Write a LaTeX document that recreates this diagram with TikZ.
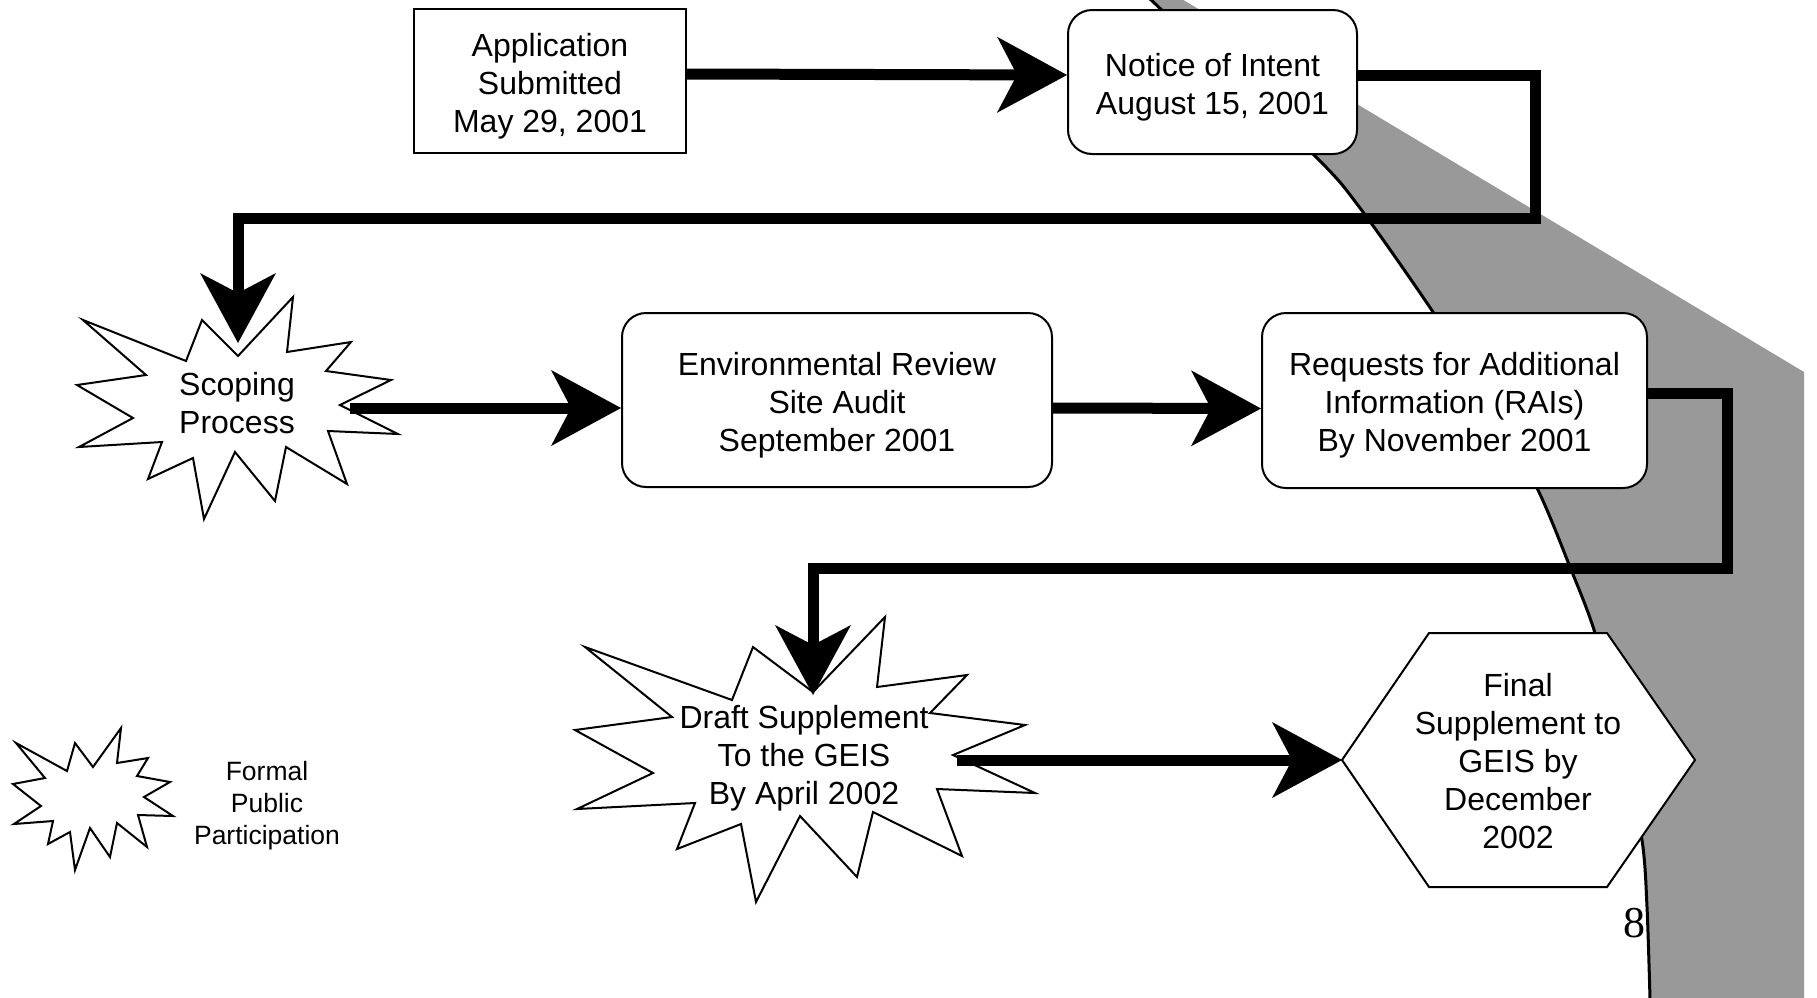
\documentclass[tikz,border=0pt]{standalone}
\usepackage{fontspec}
\setmainfont{Liberation Sans}
\newfontfamily\pagenumfont{Liberation Serif}
\usetikzlibrary{arrows.meta}
\newcommand\mainfs{\fontsize{32}{38}\selectfont}
\newcommand\legfs{\fontsize{26.5}{32}\selectfont}
\begin{document}
\begin{tikzpicture}[x=1pt,y=-1pt,
  box/.style={draw=black, line width=2pt, fill=white, inner sep=0pt},
  rbox/.style={box, rounded corners=24pt},
  txt/.style={align=center, font=\mainfs, inner sep=0pt},
  legtxt/.style={align=center, font=\legfs, inner sep=0pt},
  starshape/.style={draw=black, line width=2pt, fill=white, line join=miter},
  conn/.style={line width=11pt, line join=miter},
  arr/.style={conn, -{Stealth[length=70pt,width=76pt,inset=20pt,line width=0pt]}},
  bandgray/.style={fill=black!40}
]
\useasboundingbox (0,0) rectangle (1817,997);
\fill[white] (0,0) rectangle (1817,997);

% gray band
\fill[bandgray] plot[smooth,tension=0.5] coordinates {(1149,-2) (1313,154) (1360,208) (1433,312) (1487,398) (1537,488) (1570,567) (1595,633) (1622,735) (1642,840) (1647,907) (1650,999)}
  -- (1804,999) -- (1804,372) -- (1180,-2) -- cycle;
\draw[line width=3pt] plot[smooth,tension=0.5] coordinates {(1149,-2) (1313,154) (1360,208) (1433,312) (1487,398) (1537,488) (1570,567) (1595,633) (1622,735) (1642,840) (1647,907) (1650,999)};

% boxes
\node[box, minimum width=272pt, minimum height=144pt] (app) at (550,81) {};
\node[txt] (apptext) at ([yshift=-5pt]app.center) {Application\\Submitted\\May 29, 2001};
\node[rbox, minimum width=289pt, minimum height=144pt] (notice) at (1212.5,82) {};
\node[txt] (noticetext) at ([yshift=-5pt]notice.center) {Notice of Intent\\August 15, 2001};
\node[rbox, minimum width=430pt, minimum height=174pt] (env) at (837,400) {};
\node[txt] (envtext) at ([yshift=-5pt]env.center) {Environmental Review\\Site Audit\\September 2001};
\node[rbox, minimum width=385pt, minimum height=175pt] (rai) at (1454.5,400.5) {};
\node[txt] (raitext) at ([yshift=-5pt]rai.center) {Requests for Additional\\Information (RAIs)\\By November 2001};

% hexagon
\draw[starshape] (1342,760) -- (1429,633) -- (1607,633) -- (1695,760) -- (1607,887) -- (1429,887) -- cycle;
\node[txt] (finaltext) at (1518,761) {Final\\Supplement to\\GEIS by\\December\\2002};

% stars
\draw[starshape] (202,320) -- (238,356) -- (293,297) -- (287,352) -- (351,342) -- (326,371) -- (391,380) -- (340,405) -- (398,434) -- (328,431) -- (347,484) -- (286,447) -- (275,501) -- (235,452) -- (204,519) -- (193,458) -- (148,479) -- (162,442) -- (79,447) -- (133,418) -- (77,385) -- (146,375) -- (83,320) -- (186,361) -- cycle;
\node[txt] (scoptext) at (237,403) {Scoping\\Process};

\draw[starshape] (753,647) -- (813,692) -- (885,617) -- (877,687) -- (967,675) -- (930,713) -- (1025,725) -- (953,755) -- (1035,793) -- (937,789) -- (962,856) -- (873,812) -- (857,877) -- (800,816) -- (756,902) -- (741,824) -- (677,849) -- (695,803) -- (577,809) -- (653,773) -- (575,730) -- (672,717) -- (585,647) -- (732,700) -- cycle;
\node[txt] (drafttext) at (804,758) {Draft Supplement\\To the GEIS\\By April 2002};

\draw[starshape] (16,743) -- (67,771) -- (75,743) -- (93,767) -- (121,728) -- (117,763) -- (148,758) -- (137,776) -- (170,782) -- (144,797) -- (173,816) -- (138,815) -- (147,847) -- (117,823) -- (110,857) -- (90,828) -- (75,870) -- (70,832) -- (48,844) -- (53,821) -- (14,824) -- (41,806) -- (13,784) -- (45,778) -- cycle;
\node[legtxt] (legtext) at (267,805.5) {Formal\\Public\\Participation};

\node[font=\pagenumfont\fontsize{44}{48}\selectfont, inner sep=0pt] (pnum) at (1634,923) {8};

% connector coordinates
\coordinate (scopin) at (238,343);
\coordinate (scopout) at (350,408);
\coordinate (draftin) at (813,695);
\coordinate (draftout) at (957,760);
\coordinate (finalin) at (1342,760);
\coordinate (bend1) at (1535,218);
\coordinate (bend2) at (1727,568);

% connectors
\draw[arr] ([yshift=7pt]app.east) -- ([yshift=7pt]notice.west);
\draw[arr] ([yshift=7pt]notice.east) -| (bend1) -| (scopin);
\draw[arr] (scopout) -- (scopout -| env.west);
\draw[arr] ([yshift=-8pt]env.east) -- ([yshift=-8pt]rai.west);
\draw[arr] ([yshift=7.5pt]rai.east) -| (bend2) -| (draftin);
\draw[arr] (draftout) -- (finalin);
\end{tikzpicture}
\end{document}
